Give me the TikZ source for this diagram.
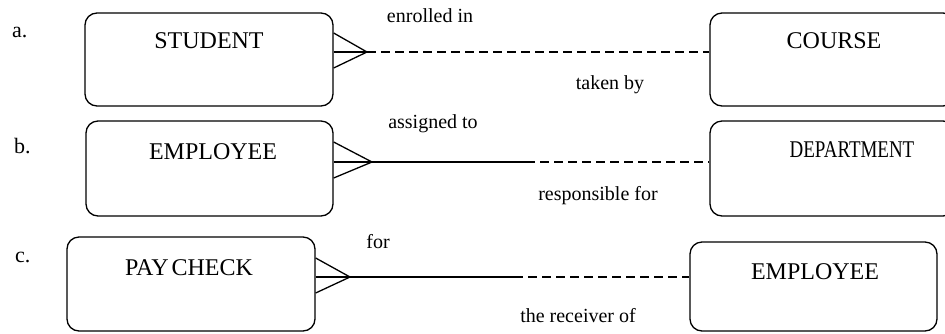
\documentclass[tikz,border=0pt]{standalone}
\usepackage{fontspec}
\setmainfont{Liberation Serif}
\usetikzlibrary{calc}
\tikzset{
  entity/.style={draw,line width=1.3pt,rounded corners=12pt,inner sep=0pt},
  entname/.style={font=\fontsize{24}{28}\selectfont,anchor=base,inner sep=0pt},
  role/.style={font=\fontsize{20}{24}\selectfont,anchor=base,inner sep=0pt},
  rowmark/.style={font=\fontsize{22}{26}\selectfont,anchor=base west,inner sep=0pt},
  link/.style={line width=1.3pt},
  optlink/.style={line width=1.3pt,dash pattern=on 9pt off 5pt}
}
\newcommand{\crowsfoot}[4]{%
  \draw[link] (#1.east |- #2) -- (#2);
  \draw[link] ($(#1.east |- #2)+(0,-#3)$) -- (#2);
  \draw[link] ($(#1.east |- #2)+(0,#4)$) -- (#2);
}
\begin{document}
\begin{tikzpicture}[x=1pt,y=-1pt]
  \useasboundingbox (0,0) rectangle (945,333);
  \clip (0,0) rectangle (945,333);
  % a.
  \node[rowmark] (marka) at (12,37) {a.};
  \node[entity,minimum width=248pt,minimum height=93pt] (student) at (209,59.5) {};
  \node[entity,minimum width=245pt,minimum height=93pt] (course) at (832.5,59.5) {};
  \node[entname] (studentname) at (209,48) {STUDENT};
  \node[entname] (coursename) at (834,48) {COURSE};
  \coordinate (va) at (367,52);
  \crowsfoot{student}{va}{19}{16}
  \draw[optlink] (va) -- (course.west |- va);
  \node[role] (enrolled) at (430,22) {enrolled in};
  \node[role] (takenby) at (610,89) {taken by};
  % b.
  \node[rowmark] (markb) at (14,153) {b.};
  \node[entity,minimum width=247pt,minimum height=95pt] (employee) at (209.5,168.5) {};
  \node[entity,minimum width=245pt,minimum height=95pt] (department) at (832.5,168.5) {};
  \node[entname] (employeename) at (213,159) {EMPLOYEE};
  \node[entname] (departmentname) at (852,157) {\scalebox{0.79}[1]{DEPARTMENT}};
  \coordinate (vb) at (372,162);
  \coordinate (mb) at (526,162);
  \crowsfoot{employee}{vb}{20}{16}
  \draw[link] (vb) -- (mb);
  \draw[optlink] (mb) -- (department.west |- vb);
  \node[role] (assigned) at (433,128) {assigned to};
  \node[role] (responsible) at (598,200) {responsible for};
  % c.
  \node[rowmark] (markc) at (15,262) {c.};
  \node[entity,minimum width=248pt,minimum height=94pt] (paycheck) at (191,284) {};
  \node[entity,minimum width=247pt,minimum height=89pt] (payee) at (813.5,286.5) {};
  \node[entname] (paycheckname) at (189,275) {PAY\kern0.12em CHECK};
  \node[entname] (payeename) at (815,279) {EMPLOYEE};
  \coordinate (vc) at (350,277);
  \coordinate (mc) at (514,277);
  \crowsfoot{paycheck}{vc}{19}{16}
  \draw[link] (vc) -- (mc);
  \draw[optlink] (mc) -- (payee.west |- vc);
  \node[role] (for) at (378,248) {for};
  \node[role] (receiver) at (578,322) {the receiver of};
\end{tikzpicture}
\end{document}
